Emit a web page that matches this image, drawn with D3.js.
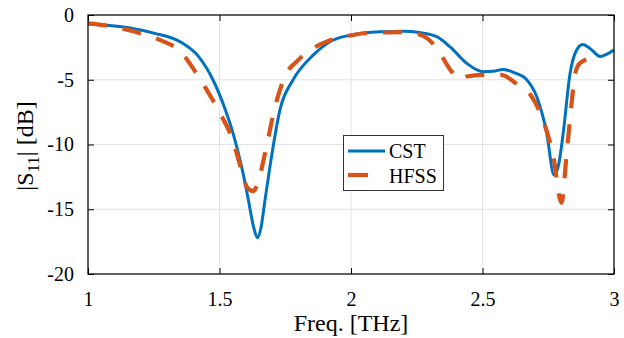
<!DOCTYPE html>
<html>
<head>
<meta charset="utf-8">
<script src="https://cdn.jsdelivr.net/npm/d3@7"></script>
<style>
  html, body { margin: 0; padding: 0; background: #fff; }
  svg { display: block; }
  text { font-family: "Liberation Serif", "Times New Roman", serif; fill: #000; }
</style>
</head>
<body>
<svg id="chart" width="624" height="338"></svg>
<script>
// ---- data ----
const cstFreq = [1.00,1.10,1.16,1.25,1.35,1.42,1.475,1.52,1.551,1.584,1.61,1.630,1.644,1.658,1.673,1.698,1.73,1.78,1.856,1.92,2.00,2.11,2.20,2.26,2.326,2.376,2.44,2.503,2.54,2.579,2.62,2.668,2.706,2.744,2.772,2.790,2.807,2.833,2.858,2.881,2.91,2.947,2.975,3.00];
const cstS11  = [-0.70,-0.85,-1.00,-1.40,-2.06,-3.2,-5.0,-7.2,-9.1,-11.7,-14.3,-16.4,-17.2,-16.4,-14.3,-10.9,-7.3,-5.0,-3.1,-2.06,-1.54,-1.29,-1.25,-1.35,-1.67,-2.45,-3.73,-4.38,-4.35,-4.2,-4.45,-5.0,-6.3,-9.1,-12.36,-11.5,-9.1,-4.5,-2.7,-2.27,-2.6,-3.2,-3.0,-2.7];
const hfssFreq = [1.00,1.08,1.18,1.27,1.35,1.42,1.494,1.55,1.584,1.605,1.628,1.648,1.673,1.711,1.755,1.793,1.856,1.907,2.01,2.05,2.20,2.25,2.29,2.326,2.383,2.414,2.44,2.50,2.57,2.635,2.687,2.73,2.769,2.80,2.82,2.839,2.85,2.87,2.91,2.95];
const hfssS11  = [-0.65,-0.85,-1.3,-1.9,-2.8,-4.76,-7.3,-9.65,-12.0,-13.3,-13.6,-12.8,-10.7,-7.1,-4.5,-3.6,-2.57,-2.06,-1.54,-1.41,-1.33,-1.45,-1.8,-2.57,-4.38,-5.0,-4.75,-4.63,-4.63,-5.4,-6.3,-8.1,-10.9,-14.5,-10.7,-6.8,-4.76,-3.73,-3.35,-3.27];
const xTicks = [1, 1.5, 2, 2.5, 3];
const yTicks = [0, -5, -10, -15, -20];
const seriesNames = ["CST", "HFSS"];
const seriesColors = ["#0072BD", "#D95319"];

// ---- layout ----
const svg = d3.select("#chart");
const L = 88, R = 614, T = 15, B = 274;
const x = d3.scaleLinear().domain([1, 3]).range([L, R]);
const y = d3.scaleLinear().domain([-20, 0]).range([B, T]);

// grid
const grid = svg.append("g").attr("stroke", "#e3e3e3").attr("stroke-width", 1);
xTicks.forEach(t => grid.append("line").attr("x1", x(t)).attr("x2", x(t)).attr("y1", T).attr("y2", B));
yTicks.forEach(t => grid.append("line").attr("x1", L).attr("x2", R).attr("y1", y(t)).attr("y2", y(t)));

// axes with inward ticks
const fmt = d => String(d).replace("\u2212", "-");
const xAxisB = d3.axisBottom(x).tickValues(xTicks).tickSize(-6).tickPadding(18).tickFormat(fmt);
const xAxisT = d3.axisTop(x).tickValues(xTicks).tickSize(-6).tickFormat("");
const yAxisL = d3.axisLeft(y).tickValues(yTicks).tickSize(-6).tickPadding(14).tickFormat(fmt);
const yAxisR = d3.axisRight(y).tickValues(yTicks).tickSize(-6).tickFormat("");

function styleAxis(g) {
  g.select(".domain").remove();
  g.selectAll(".tick line").attr("stroke", "#000").attr("stroke-width", 1);
  g.selectAll("text").style("font-family", "'Liberation Serif', serif").style("font-size", "20px").attr("fill", "#000");
}
svg.append("g").attr("transform", `translate(0,${B})`).call(xAxisB).call(styleAxis);
svg.append("g").attr("transform", `translate(0,${T})`).call(xAxisT).call(styleAxis);
svg.append("g").attr("transform", `translate(${L},0)`).call(yAxisL).call(styleAxis);
svg.append("g").attr("transform", `translate(${R},0)`).call(yAxisR).call(styleAxis);

// curves
const line = d3.line().x(d => x(d[0])).y(d => y(d[1])).curve(d3.curveMonotoneX);
const cst = cstFreq.map((f, i) => [f, cstS11[i]]);
const hfss = hfssFreq.map((f, i) => [f, hfssS11[i]]);

svg.append("path").datum(cst).attr("d", line)
  .attr("fill", "none").attr("stroke", seriesColors[0]).attr("stroke-width", 3).attr("stroke-linejoin", "round");
svg.append("path").datum(hfss).attr("d", line)
  .attr("fill", "none").attr("stroke", seriesColors[1]).attr("stroke-width", 4.2)
  .attr("stroke-dasharray", "19,16");

// box
svg.append("rect").attr("x", L).attr("y", T).attr("width", R - L).attr("height", B - T)
  .attr("fill", "none").attr("stroke", "#000").attr("stroke-width", 1.2);

// axis labels
svg.append("text").attr("x", (L + R) / 2).attr("y", 331).attr("text-anchor", "middle")
  .style("font-size", "24px").text("Freq. [THz]");
const yl = svg.append("text").attr("transform", `translate(33,146) rotate(-90)`)
  .attr("text-anchor", "middle").style("font-size", "24px");
yl.append("tspan").text("|S");
yl.append("tspan").attr("dy", 6).style("font-size", "17px").text("11");
yl.append("tspan").attr("dy", -6).text("| [dB]");

// legend
const lg = svg.append("g");
lg.append("rect").attr("x", 343.5).attr("y", 135.5).attr("width", 100).attr("height", 55)
  .attr("fill", "#fff").attr("stroke", "#333").attr("stroke-width", 1);
lg.append("line").attr("x1", 348).attr("x2", 385).attr("y1", 151).attr("y2", 151)
  .attr("stroke", seriesColors[0]).attr("stroke-width", 3);
lg.append("line").attr("x1", 348).attr("x2", 385).attr("y1", 175).attr("y2", 175)
  .attr("stroke", seriesColors[1]).attr("stroke-width", 4.2).attr("stroke-dasharray", "20,30");
lg.append("text").attr("x", 389).attr("y", 158).style("font-size", "20px").text(seriesNames[0]);
lg.append("text").attr("x", 389).attr("y", 183).style("font-size", "20px").text(seriesNames[1]);
</script>
</body>
</html>
